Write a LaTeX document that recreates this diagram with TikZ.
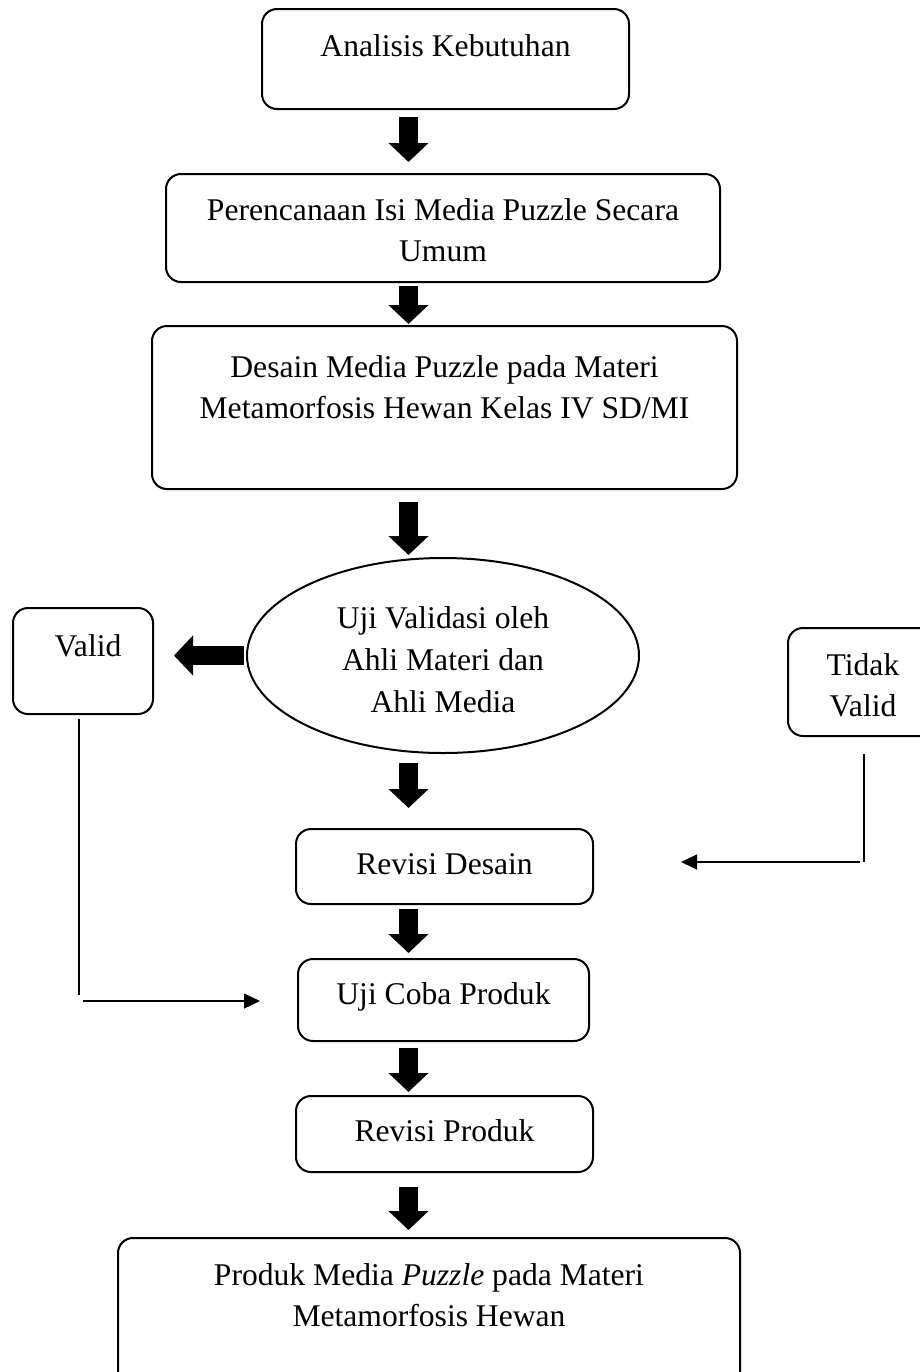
\documentclass[tikz,border=0pt]{standalone}
\usepackage{fontspec}
\setmainfont{Liberation Serif}
\usepackage{tikz}
\usetikzlibrary{positioning, calc, arrows.meta, shapes.geometric}

\begin{document}
\begin{tikzpicture}[x=0.5pt, y=-0.5pt,
    box/.style={draw, line width=1pt, rounded corners=7.5pt, anchor=north,
        inner xsep=0pt, inner ysep=0pt, align=center,
        font=\fontsize{15.8}{20.5}\selectfont},
    bigarrow/.style={line width=9.5pt, -{Triangle[length=9.5pt, width=19.5pt]}},
    link/.style={line width=0.6pt}]

    % Page frame
    \useasboundingbox (0,0) rectangle (920,1372);

    % Main flow boxes
    \node[box, minimum width=183.5pt, text height=23.5pt, text depth=26.5pt] (ana) at (445.5,8) {Analisis Kebutuhan};
    \node[box, minimum width=277pt, text height=43.5pt, text depth=10.5pt] (plan) at (443,173) {Perencanaan Isi Media Puzzle Secara\\Umum};
    \node[box, minimum width=292.5pt, text height=46pt, text depth=35.5pt] (desain) at (444.5,325) {Desain Media Puzzle pada Materi\\Metamorfosis Hewan Kelas IV SD/MI};

    % Validation step
    \node[draw, ellipse, line width=1pt, minimum width=196pt, minimum height=97.5pt,
        inner sep=0pt, align=center, font=\fontsize{15.8}{21}\selectfont,
        text height=62pt, text depth=5.5pt] (uji) at (443,655.5) {Uji Validasi oleh\\Ahli Materi dan\\Ahli Media};
    \node[box, minimum width=70pt, text height=24pt, text depth=29pt] (valid) at (83,607) {\hspace*{5pt}Valid};
    \node[box, minimum width=75pt, text height=44pt, text depth=10pt] (tidak) at (863,627) {Tidak\\Valid};

    % Revision and trial
    \node[box, minimum width=148.5pt, text height=22.5pt, text depth=15pt] (revd) at (444.5,828) {Revisi Desain};
    \node[box, minimum width=145.5pt, text height=22.5pt, text depth=18.5pt] (ujicoba) at (443.5,958) {Uji Coba Produk};
    \node[box, minimum width=148.5pt, text height=22.5pt, text depth=15.5pt] (revp) at (444.5,1095) {Revisi Produk};
    \node[box, minimum width=311pt, text height=44pt, text depth=37.5pt] (prod) at (429,1237) {Produk Media \textit{Puzzle} pada Materi\\Metamorfosis Hewan};

    % Column of the thick arrows
    \coordinate (ax) at (408.5,0);

    % Thick arrows down the flow
    \draw[bigarrow] ([yshift=-3.5pt]ana.south -| ax) -- ([yshift=5.5pt]plan.north -| ax);
    \draw[bigarrow] ([yshift=-1.5pt]plan.south -| ax) -- ([yshift=0.5pt]desain.north -| ax);
    \draw[bigarrow] ([yshift=-6pt]desain.south -| ax) -- ([yshift=1pt]uji.north -| ax);
    \draw[bigarrow] ([yshift=-4.5pt]uji.south -| ax) -- ([yshift=10pt]revd.north -| ax);
    \draw[bigarrow] ([yshift=-2pt]revd.south -| ax) -- ([yshift=2.5pt]ujicoba.north -| ax);
    \draw[bigarrow] ([yshift=-3pt]ujicoba.south -| ax) -- ([yshift=1.5pt]revp.north -| ax);
    \draw[bigarrow] ([yshift=-7pt]revp.south -| ax) -- ([yshift=3.5pt]prod.north -| ax);

    % Thick arrow to "Valid"
    \draw[bigarrow] ([xshift=-1pt]uji.west) -- ([xshift=10pt]uji.west -| valid.east);

    % Thin return lines
    \coordinate (vdown) at (79,995);
    \coordinate (vbend) at (83,1001);
    \draw[link] ([xshift=-2pt, yshift=-2pt]valid.south) -- (vdown);
    \draw[link, -{Triangle[length=8pt, width=7.5pt]}] (vbend) -- ([xshift=-18.5pt]vbend -| ujicoba.west);

    \coordinate (tdown) at (864,862);
    \coordinate (tbend) at (860,862);
    \draw[link] ([xshift=0.5pt, yshift=-8.5pt]tidak.south) -- (tdown);
    \draw[link, -{Triangle[length=8pt, width=7.5pt]}] (tbend) -- ([xshift=43.5pt]tbend -| revd.east);

\end{tikzpicture}
\end{document}
